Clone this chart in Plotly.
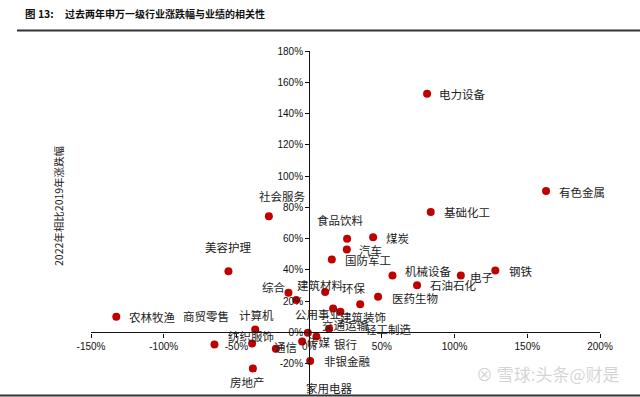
import plotly.graph_objects as go

industries = ["电力设备", "有色金属", "基础化工", "煤炭", "食品饮料", "汽车", "国防军工", "机械设备",
              "电子", "钢铁", "石油石化", "医药生物", "社会服务", "美容护理", "农林牧渔", "商贸零售",
              "计算机", "纺织服饰", "通信", "房地产", "综合", "建筑材料", "环保", "公用事业",
              "建筑装饰", "交通运输", "轻工制造", "传媒", "银行", "家用电器", "非银金融"]
perf_x = [81.1, 162.9, 83.6, 44.0, 26.1, 25.9, 15.6, 57.3,
          104.3, 128.0, 74.2, 47.4, -27.7, -55.5, -132.6, -65.1,
          -37.1, -39.2, -22.9, -38.7, -14.2, -8.9, 11.0, 16.5,
          21.5, 35.1, 13.7, -4.8, 5.0, -0.9, 0.7]
change_y = [152.7, 90.5, 77.1, 60.9, 59.9, 53.0, 46.6, 36.4,
            36.4, 39.6, 30.2, 22.8, 74.3, 39.2, 10.0, -7.7,
            1.9, -7.0, -10.5, -23.0, 25.4, 20.8, 25.8, 15.3,
            13.2, 18.1, 2.4, -5.8, -2.6, -0.2, -18.3]
# label offsets in pixels (style only)
label_dx = [10, 11, 11, 11, -32, 10, 11, 11, 7, 12, 11, 12, -12, -25, 11, -33,
            -18, -26, -4, -25, -28, -1, 15, -40, -2, -40, 34, 3, 16, -4, 12]
label_dy = [0, -1, 0, -1, 19, 0, 0, 5, -1, 0, 0, -1, 20, 24, 0, 28,
            14, 7, 2, -14, 6, 15, 4, -5, -5, -21, 0, 0, -7, -55, 0]

x_ticks = [-150, -100, -50, 0, 50, 100, 150, 200]
y_ticks = [-40, -20, 0, 20, 40, 60, 80, 100, 120, 140, 160, 180]
x_ticklabels = ["-150%", "-100%", "-50%", "0%", "50%", "100%", "150%", "200%"]
y_ticklabels = ["-40%", "-20%", "0%", "20%", "40%", "60%", "80%", "100%", "120%", "140%", "160%", "180%"]
x_range = [-150, 200]
y_range = [-40, 180]

title_no = "图 13:"
title_text = "过去两年申万一级行业涨跌幅与业绩的相关性"
y_title = "2022年相比2019年涨跌幅"
watermark = "⊗ 雪球:头条@财是"

W, H = 640, 397
ML, MR, MT, MB = 91, 40, 51, 2
pw = W - ML - MR
ph = H - MT - MB

cjk = "Noto Sans CJK SC"
tick_font = dict(family="Liberation Sans, Arial", size=10, color="#111")

fig = go.Figure()
fig.add_trace(go.Scatter(
    x=perf_x, y=change_y, mode="markers",
    marker=dict(color="#C00000", size=8),
    hoverinfo="text", text=industries, showlegend=False,
))

annotations = []
for name, xv, yv, dx, dy in zip(industries, perf_x, change_y, label_dx, label_dy):
    annotations.append(dict(x=xv, y=yv, xref="x", yref="y", text=name, showarrow=False,
                            xanchor="left", yanchor="middle", xshift=dx, yshift=dy,
                            font=dict(family=cjk, size=11.5, color="#222")))


def px_x(px):
    return (px - ML) / pw


def px_y(py):
    return (H - MB - py) / ph


annotations.append(dict(x=px_x(23), y=px_y(13), xref="paper", yref="paper", text="<b>" + title_no + "</b>",
                        showarrow=False, xanchor="left", yanchor="middle",
                        font=dict(family=cjk, size=10.5, color="#111")))
annotations.append(dict(x=px_x(63), y=px_y(13), xref="paper", yref="paper", text="<b>" + title_text + "</b>",
                        showarrow=False, xanchor="left", yanchor="middle",
                        font=dict(family=cjk, size=10, color="#111")))
annotations.append(dict(x=px_x(58), y=px_y(206), xref="paper", yref="paper", text=y_title,
                        showarrow=False, textangle=-90, xanchor="center", yanchor="middle",
                        font=dict(family=cjk, size=10.5, color="#222")))
annotations.append(dict(x=px_x(548), y=px_y(373), xref="paper", yref="paper", text=watermark,
                        showarrow=False, xanchor="center", yanchor="middle",
                        font=dict(family=cjk, size=17, color="rgba(170,170,170,0.5)")))

shapes = [
    dict(type="line", xref="paper", yref="paper", x0=px_x(17), x1=px_x(640), y0=px_y(30.5), y1=px_y(30.5),
         line=dict(color="#333", width=2)),
    dict(type="line", xref="paper", yref="paper", x0=px_x(0), x1=px_x(640), y0=px_y(395.5), y1=px_y(395.5),
         line=dict(color="#333", width=2)),
]

xpos = (0 - y_range[0]) / (y_range[1] - y_range[0])
ypos = (0 - x_range[0]) / (x_range[1] - x_range[0])

fig.update_layout(
    width=W, height=H,
    margin=dict(l=ML, r=MR, t=MT, b=MB),
    paper_bgcolor="white", plot_bgcolor="white",
    xaxis=dict(range=x_range, tickmode="array", tickvals=x_ticks, ticktext=x_ticklabels,
               showgrid=False, zeroline=False,
               showline=True, linecolor="#111", linewidth=1.2, ticks="outside", ticklen=4,
               tickcolor="#111", tickfont=tick_font, anchor="free", position=xpos, automargin=False),
    yaxis=dict(range=y_range, tickmode="array", tickvals=y_ticks, ticktext=y_ticklabels,
               showgrid=False, zeroline=False,
               showline=True, linecolor="#111", linewidth=1.2, ticks="outside", ticklen=4,
               tickcolor="#111", tickfont=tick_font, anchor="free", position=ypos, automargin=False),
    annotations=annotations,
    shapes=shapes,
)

fig.write_html("out.html", config={"displayModeBar": False},
               post_script="document.body.style.margin='0';")
